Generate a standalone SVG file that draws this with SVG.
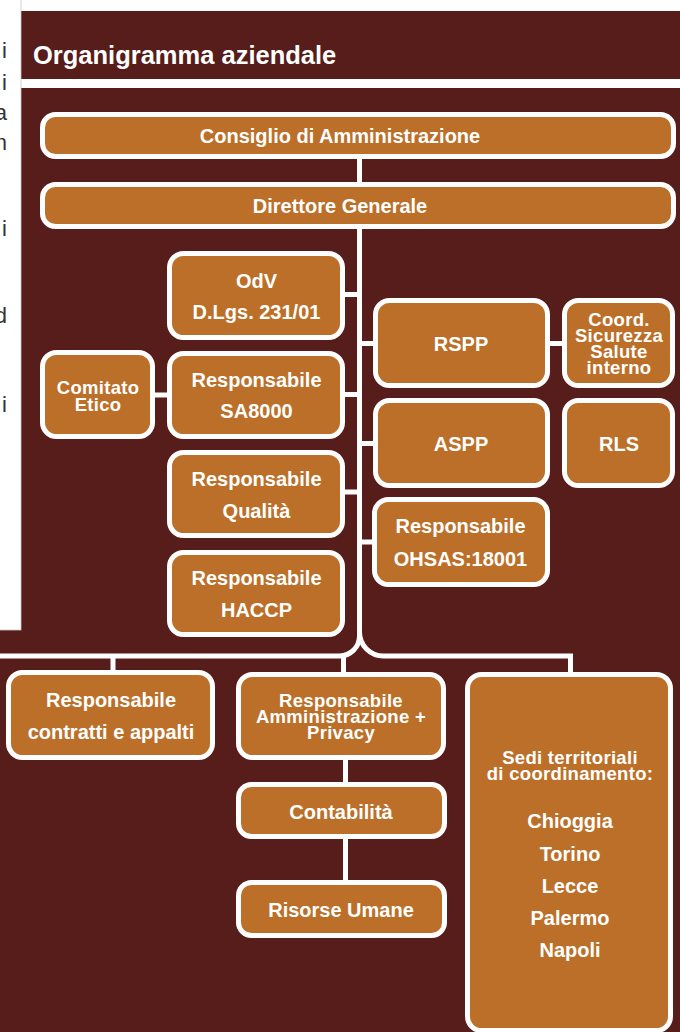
<svg xmlns="http://www.w3.org/2000/svg" width="680" height="1032" viewBox="0 0 680 1032">
<defs>
<style>
.bg{fill:#561d1a}
.box{fill:#bc6f28;stroke:#ffffff;stroke-width:5}
.t{font-family:"Liberation Sans",Arial,Helvetica,sans-serif;font-weight:bold;font-size:20px;fill:#ffffff;text-anchor:middle}
.tt{font-family:"Liberation Sans",Arial,Helvetica,sans-serif;font-weight:bold;font-size:18.5px;letter-spacing:0.3px;fill:#ffffff;text-anchor:middle}
.title{font-family:"Liberation Sans",Arial,Helvetica,sans-serif;font-weight:bold;font-size:25.5px;fill:#ffffff}
.pg{font-family:"Liberation Sans",Arial,Helvetica,sans-serif;font-size:22px;fill:#333333;text-anchor:end}
.ln{fill:none;stroke:#ffffff;stroke-width:5}
</style>
</defs>
<rect x="0" y="0" width="680" height="1032" fill="#ffffff"/>
<rect class="bg" x="18" y="11" width="662" height="68"/>
<rect class="bg" x="18" y="88" width="662" height="944"/>
<rect class="bg" x="0" y="628" width="20" height="404"/>
<rect x="-2" y="-2" width="23" height="632" fill="#ffffff" stroke="#c8c8c8" stroke-width="0.8"/>
<g id="page-text">
<text class="pg" x="7" y="58">i</text>
<text class="pg" x="7" y="90">i</text>
<text class="pg" x="7" y="120">a</text>
<text class="pg" x="7" y="150">n</text>
<text class="pg" x="7" y="236">i</text>
<text class="pg" x="7" y="323">d</text>
<text class="pg" x="7" y="412">i</text>
</g>
<text class="title" x="33" y="64">Organigramma aziendale</text>
<g id="connectors">
<path class="ln" d="M359.5 157 V184"/>
<path class="ln" d="M359.5 227 V636"/>
<path class="ln" d="M359.5 636 A20 20 0 0 1 339.5 656 H-5"/>
<path class="ln" d="M359.5 632 A24 24 0 0 0 383.5 656 H570.5 V674"/>
<path class="ln" d="M343 294.5 H360"/>
<path class="ln" d="M343 394.5 H360"/>
<path class="ln" d="M153 395 H170"/>
<path class="ln" d="M343 492 H360"/>
<path class="ln" d="M359 343.5 H376"/>
<path class="ln" d="M548 343.5 H565"/>
<path class="ln" d="M359 443.5 H376"/>
<path class="ln" d="M359 542 H375"/>
<path class="ln" d="M113 655 V672"/>
<path class="ln" d="M343.5 654 V674"/>
<path class="ln" d="M345.5 758 V784"/>
<path class="ln" d="M345.5 837 V882"/>
</g>
<g id="n-consiglio">
<rect class="box" x="42.5" y="114.5" width="631" height="42" rx="13"/>
<text class="t" x="340" y="143">Consiglio di Amministrazione</text>
</g>
<g id="n-direttore">
<rect class="box" x="42.5" y="184.5" width="631" height="42" rx="13"/>
<text class="t" x="340" y="213">Direttore Generale</text>
</g>
<g id="n-odv">
<rect class="box" x="169.5" y="253.5" width="173" height="84" rx="14"/>
<text class="t" x="256.5" y="288">OdV</text>
<text class="t" x="256.5" y="319">D.Lgs. 231/01</text>
</g>
<g id="n-sa8000">
<rect class="box" x="169.5" y="353.5" width="173" height="83" rx="14"/>
<text class="t" x="256.5" y="387">Responsabile</text>
<text class="t" x="256.5" y="418">SA8000</text>
</g>
<g id="n-comitato">
<rect class="box" x="42.5" y="352.5" width="110" height="84" rx="14"/>
<text class="tt" x="98" y="394">Comitato</text>
<text class="tt" x="98" y="411">Etico</text>
</g>
<g id="n-qualita">
<rect class="box" x="169.5" y="452.5" width="173" height="83" rx="14"/>
<text class="t" x="256.5" y="486">Responsabile</text>
<text class="t" x="256.5" y="518">Qualità</text>
</g>
<g id="n-haccp">
<rect class="box" x="169.5" y="552.5" width="173" height="82" rx="14"/>
<text class="t" x="256.5" y="585">Responsabile</text>
<text class="t" x="256.5" y="617">HACCP</text>
</g>
<g id="n-rspp">
<rect class="box" x="375.5" y="300.5" width="172" height="85" rx="14"/>
<text class="t" x="461" y="351">RSPP</text>
</g>
<g id="n-coord">
<rect class="box" x="564.5" y="300.5" width="108" height="85" rx="14"/>
<text class="tt" x="619" y="326">Coord.</text>
<text class="tt" x="619" y="342">Sicurezza</text>
<text class="tt" x="619" y="358">Salute</text>
<text class="tt" x="619" y="374">interno</text>
</g>
<g id="n-aspp">
<rect class="box" x="375.5" y="400.5" width="172" height="85" rx="14"/>
<text class="t" x="461" y="451">ASPP</text>
</g>
<g id="n-rls">
<rect class="box" x="564.5" y="400.5" width="108" height="85" rx="14"/>
<text class="t" x="619" y="451">RLS</text>
</g>
<g id="n-ohsas">
<rect class="box" x="374.5" y="499.5" width="173" height="85" rx="14"/>
<text class="t" x="460.5" y="533">Responsabile</text>
<text class="t" x="460.5" y="566">OHSAS:18001</text>
</g>
<g id="n-contratti">
<rect class="box" x="8.5" y="672.5" width="204" height="85" rx="14"/>
<text class="t" x="111" y="707">Responsabile</text>
<text class="t" x="111" y="739">contratti e appalti</text>
</g>
<g id="n-amministrazione">
<rect class="box" x="238.5" y="674.5" width="205" height="83" rx="14"/>
<text class="tt" x="341" y="707">Responsabile</text>
<text class="tt" x="341" y="723">Amministrazione +</text>
<text class="tt" x="341" y="739">Privacy</text>
</g>
<g id="n-contabilita">
<rect class="box" x="238.5" y="784.5" width="206" height="52" rx="13"/>
<text class="t" x="341" y="819">Contabilità</text>
</g>
<g id="n-risorse">
<rect class="box" x="238.5" y="882.5" width="206" height="53" rx="13"/>
<text class="t" x="341" y="917">Risorse Umane</text>
</g>
<g id="n-sedi">
<rect class="box" x="467.5" y="674.5" width="203" height="356" rx="14"/>
<text class="tt" x="570" y="764">Sedi territoriali</text>
<text class="tt" x="570" y="780">di coordinamento:</text>
<text class="t" x="570" y="828">Chioggia</text>
<text class="t" x="570" y="861">Torino</text>
<text class="t" x="570" y="893">Lecce</text>
<text class="t" x="570" y="925">Palermo</text>
<text class="t" x="570" y="957">Napoli</text>
</g>
</svg>
